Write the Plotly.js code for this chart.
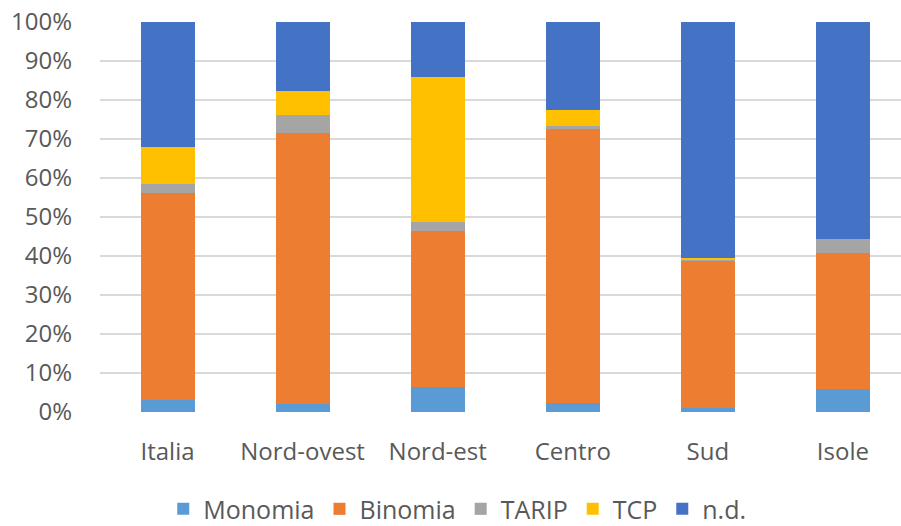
<!DOCTYPE html>
<html>
<head>
<meta charset="utf-8">
<script src="https://cdn.plot.ly/plotly-3.0.1.min.js"></script>
<style>html,body{margin:0;padding:0;background:#fff;}#chart{width:901px;height:526px;}</style>
</head>
<body>
<div id="chart"></div>
<script>
const categories = ["Italia", "Nord-ovest", "Nord-est", "Centro", "Sud", "Isole"];
const monomia = [3.2, 2.0, 6.3, 2.3, 1.1, 5.8];
const binomia = [53.0, 69.5, 40.0, 70.3, 37.7, 34.9];
const tarip = [2.3, 4.7, 2.3, 0.8, 0.1, 3.6];
const tcp = [9.5, 6.0, 37.2, 4.1, 0.6, 0.0];
const nd = [32.0, 17.8, 14.2, 22.5, 60.5, 55.7];
const seriesNames = ["Monomia", "Binomia", "TARIP", "TCP", "n.d."];
const yTickVals = [0, 10, 20, 30, 40, 50, 60, 70, 80, 90, 100];
const yTickText = ["0%", "10%", "20%", "30%", "40%", "50%", "60%", "70%", "80%", "90%", "100%"];

const colors = ["#5B9BD5", "#ED7D31", "#A5A5A5", "#FFC000", "#4472C4"];
const values = [monomia, binomia, tarip, tcp, nd];

const traces = values.map((v, i) => ({
  type: "bar",
  name: seriesNames[i],
  x: categories,
  y: v,
  marker: {color: colors[i], line: {width: 0}},
  hoverinfo: "x+y+name"
}));

const family = "Open Sans, Noto Sans, sans-serif";
const font = {family: family, color: "#595959", size: 24};

const layout = {
  width: 901,
  height: 526,
  barmode: "stack",
  bargap: 0.6,
  paper_bgcolor: "#ffffff",
  plot_bgcolor: "#ffffff",
  margin: {l: 100, r: 0, t: 22, b: 114, pad: 0, autoexpand: false},
  font: font,
  showlegend: true,
  legend: {
    orientation: "h",
    x: 0.446,
    xanchor: "center",
    y: -0.308,
    yanchor: "bottom",
    font: {family: family, color: "#595959", size: 25},
    itemwidth: 30,
    traceorder: "normal"
  },
  xaxis: {
    type: "category",
    range: [-0.5, 5.43],
    showgrid: false,
    zeroline: false,
    showline: false,
    ticks: "",
    tickfont: font,
    ticklabelstandoff: 23
  },
  yaxis: {
    range: [0, 100],
    tickvals: yTickVals,
    ticktext: yTickText,
    showgrid: true,
    gridcolor: "#D9D9D9",
    gridwidth: 1.3,
    zeroline: false,
    showline: false,
    ticks: "",
    tickfont: font,
    ticklabelstandoff: 27
  }
};

Plotly.newPlot("chart", traces, layout, {displayModeBar: false, staticPlot: true});
</script>
</body>
</html>
